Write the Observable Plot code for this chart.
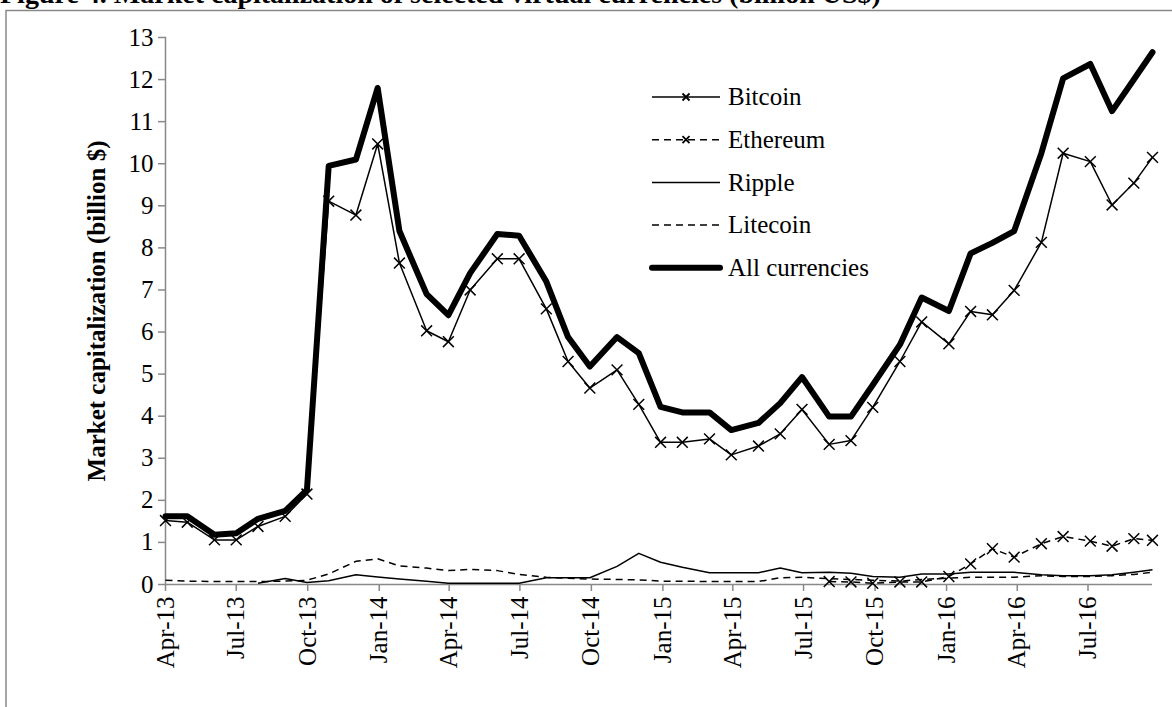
<!DOCTYPE html>
<html><head><meta charset="utf-8">
<script src="https://cdn.jsdelivr.net/npm/d3@7"></script>
<script src="https://cdn.jsdelivr.net/npm/@observablehq/plot@0.6"></script>
<style>
body{margin:0;background:#fff;overflow:hidden}
#wrap{position:relative;width:1172px;height:707px;overflow:hidden;font-family:"Liberation Serif","Times New Roman",serif;background:#fff}
#wrap > svg{position:absolute;left:0;top:0}
[aria-label="y-axis label"] text{font-weight:bold}
</style></head><body><div id="wrap"></div>
<script>
const title = "Figure 4. Market capitalization of selected virtual currencies (billion US$)";
const yLabel = "Market capitalization (billion $)";
const dates = ["2013-04-01","2013-04-29","2013-06-03","2013-07-01","2013-07-29","2013-09-02","2013-09-30","2013-10-28","2013-12-02","2013-12-30",
"2014-01-27","2014-03-03","2014-03-31","2014-04-28","2014-06-02","2014-06-30","2014-08-04","2014-09-01","2014-09-29","2014-11-03","2014-12-01","2014-12-29",
"2015-01-26","2015-03-02","2015-03-30","2015-05-04","2015-06-01","2015-06-29","2015-08-03","2015-08-31","2015-09-28","2015-11-02","2015-11-30",
"2016-01-04","2016-02-01","2016-02-29","2016-03-28","2016-05-02","2016-05-30","2016-07-04","2016-08-01","2016-08-29","2016-09-22"];
const bitcoin = [1.52,1.48,1.06,1.06,1.38,1.62,2.15,9.11,8.78,10.47,7.64,6.03,5.77,7.0,7.74,7.74,6.55,5.30,4.67,5.10,4.28,3.38,3.38,3.46,3.08,3.29,3.58,4.16,3.33,3.42,4.21,5.30,6.24,5.72,6.49,6.41,6.99,8.13,10.25,10.05,9.02,9.54,10.15];
const ethereum = [null,null,null,null,null,null,null,null,null,null,null,null,null,null,null,null,null,null,null,null,null,null,null,null,null,null,null,null,
0.07,0.06,0.03,0.06,0.06,0.19,0.49,0.85,0.65,0.97,1.14,1.03,0.91,1.09,1.05];
const ripple = [null,null,null,null,0.03,0.14,0.05,0.09,0.23,0.18,0.13,0.08,0.03,0.03,0.03,0.03,0.16,0.16,0.16,0.43,0.74,0.53,0.41,0.28,0.28,0.28,0.39,0.28,0.29,0.27,0.19,0.17,0.25,0.25,0.29,0.29,0.29,0.23,0.21,0.21,0.23,0.29,0.35];
const litecoin = [0.10,0.08,0.07,0.07,0.07,0.08,0.10,0.25,0.55,0.61,0.44,0.39,0.33,0.36,0.33,0.24,0.17,0.15,0.13,0.12,0.11,0.08,0.08,0.07,0.07,0.07,0.16,0.17,0.14,0.12,0.10,0.08,0.12,0.15,0.17,0.17,0.17,0.21,0.19,0.19,0.21,0.24,0.29];
const allCurrencies = [1.62,1.62,1.18,1.22,1.56,1.75,2.25,9.95,10.1,11.8,8.4,6.9,6.4,7.4,8.33,8.29,7.2,5.88,5.18,5.88,5.5,4.22,4.09,4.09,3.67,3.84,4.31,4.93,3.99,3.99,4.74,5.7,6.82,6.5,7.87,8.12,8.4,10.25,12.03,12.37,11.25,12.0,12.65];
const seriesNames = ["Bitcoin","Ethereum","Ripple","Litecoin","All currencies"];
const xTickDates = ["2013-04-01","2013-07-01","2013-10-01","2014-01-01","2014-04-01","2014-07-01","2014-10-01","2015-01-01","2015-04-01","2015-07-01","2015-10-01","2016-01-01","2016-04-01","2016-07-01"];
const yTicks = [0,1,2,3,4,5,6,7,8,9,10,11,12,13];

const parse = d3.utcParse("%Y-%m-%d");
const valuesBy = {"Bitcoin": bitcoin, "Ethereum": ethereum, "Ripple": ripple, "Litecoin": litecoin, "All currencies": allCurrencies};
const styles = {
  "Bitcoin": {w: 1.5, dash: null, marker: true},
  "Ethereum": {w: 1.5, dash: "7,5", marker: true},
  "Ripple": {w: 1.5, dash: null, marker: false},
  "Litecoin": {w: 1.5, dash: "7,5", marker: false},
  "All currencies": {w: 6, dash: null, marker: false}
};
const rows = [];
seriesNames.forEach(s => dates.forEach((d, i) => {
  const v = valuesBy[s][i];
  if (v != null) rows.push({series: s, date: parse(d), value: v});
}));
const grey = "#898989";
const lineMark = s => Plot.line(rows.filter(r => r.series === s), {
  x: "date", y: "value", stroke: "black", strokeWidth: styles[s].w,
  strokeDasharray: styles[s].dash, strokeLinejoin: "round", strokeLinecap: s === "All currencies" ? "round" : "butt"
});
const dotMark = s => Plot.dot(rows.filter(r => r.series === s), {
  x: "date", y: "value", symbol: "times", r: 5, stroke: "black", strokeWidth: 1.5
});
const order = ["All currencies","Bitcoin","Ethereum","Ripple","Litecoin"];
const chart = Plot.plot({
  width: 1172, height: 707,
  marginTop: 37, marginBottom: 123, marginLeft: 165, marginRight: 20,
  style: {fontFamily: '"Liberation Serif","Times New Roman",serif', color: "black", background: "transparent", overflow: "visible"},
  x: {type: "utc", domain: [parse(dates[0]), parse(dates[dates.length - 1])]},
  y: {domain: [0, 13]},
  marks: [
    Plot.ruleY([0], {stroke: grey, strokeWidth: 1.5}),
    Plot.frame({anchor: "left", stroke: grey, strokeWidth: 1.5}),
    Plot.axisY({ticks: yTicks, tickSize: 7, tickPadding: 5, fontSize: 25, stroke: grey, strokeWidth: 1.5,
      label: yLabel, labelAnchor: "center", labelArrow: "none", labelOffset: 78}),
    Plot.axisX({ticks: xTickDates.map(parse), tickFormat: d3.utcFormat("%b-%y"), tickRotate: -90,
      tickSize: 7, tickPadding: 5, fontSize: 25, stroke: grey, strokeWidth: 1.5, label: null}),
    ...order.map(lineMark),
    ...order.filter(s => styles[s].marker).map(dotMark)
  ]
});
const wrap = document.getElementById("wrap");
wrap.appendChild(chart);

// overlay: frame, title, legend
const ov = d3.select(wrap).append("svg").attr("width", 1172).attr("height", 707)
  .style("font-family", '"Liberation Serif","Times New Roman",serif');
ov.append("rect").attr("x", 6).attr("y", 10.5).attr("width", 1200).attr("height", 760)
  .attr("fill", "none").attr("stroke", grey).attr("stroke-width", 1.5);
ov.append("text").attr("x", 0).attr("y", 2.5).attr("font-size", 28).attr("font-weight", "bold").text(title);
const lg = ov.append("g").attr("transform", "translate(652,97)");
seriesNames.forEach((s, i) => {
  const g = lg.append("g").attr("transform", `translate(0,${i * 42.7})`);
  const st = styles[s];
  g.append("line").attr("x1", 0).attr("x2", 68).attr("stroke", "black")
    .attr("stroke-width", st.w).attr("stroke-dasharray", st.dash)
    .attr("stroke-linecap", s === "All currencies" ? "round" : "butt");
  if (st.marker) g.append("path").attr("d", "M30.5,-3.5L37.5,3.5M30.5,3.5L37.5,-3.5").attr("stroke", "black").attr("stroke-width", 1.8);
  g.append("text").attr("x", 76).attr("dy", "0.33em").attr("font-size", 25).text(s);
});
</script></body></html>
